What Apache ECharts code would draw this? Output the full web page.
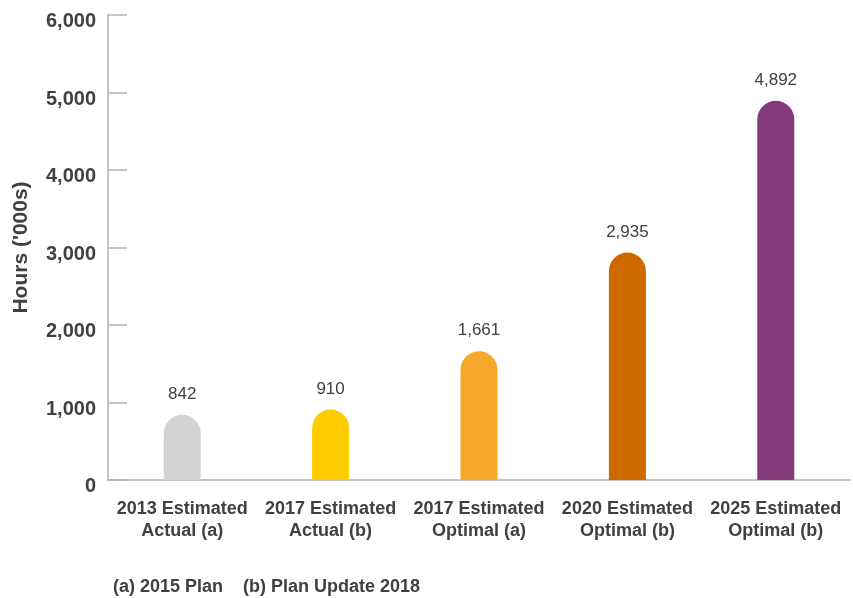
<!DOCTYPE html>
<html><head><meta charset="utf-8">
<script src="https://cdn.jsdelivr.net/npm/echarts@6/dist/echarts.min.js"></script>
<style>html,body{margin:0;padding:0;background:#fff}#c{width:853px;height:598px}</style>
</head><body><div id="c"></div>
<script>
const categories = ["2013 Estimated\nActual (a)", "2017 Estimated\nActual (b)", "2017 Estimated\nOptimal (a)", "2020 Estimated\nOptimal (b)", "2025 Estimated\nOptimal (b)"];
const values = [842, 910, 1661, 2935, 4892];
const colors = ["#d3d3d3", "#ffcc00", "#f6a82a", "#cc6a00", "#833a7a"];
const footnote = "(a) 2015 Plan    (b) Plan Update 2018";
const yName = "Hours ('000s)";

const chart = echarts.init(document.getElementById('c'));
const font = "'Liberation Sans', Arial, sans-serif";
chart.setOption({
  animation: false,
  textStyle: { fontFamily: font },
  grid: { left: 108, right: 3, top: 15, bottom: 118, containLabel: false },
  graphic: [{
    type: 'text', left: 113, top: 578,
    style: { text: footnote, font: "bold 18px " + font, fill: "#404040" }
  }],
  xAxis: {
    type: 'category', data: categories,
    axisLine: { lineStyle: { color: '#b3b3b3', width: 1.5 } },
    axisTick: { inside: true, length: 11, lineStyle: { color: '#b3b3b3', width: 1.5 } },
    axisLabel: { fontSize: 18, fontWeight: 'bold', color: '#404040', lineHeight: 22, margin: 18, interval: 0 }
  },
  yAxis: {
    type: 'value', min: 0, max: 6000, interval: 1000,
    name: yName, nameLocation: 'middle', nameGap: 76,
    nameTextStyle: { fontSize: 21, fontWeight: 'bold', color: '#404040' },
    axisLine: { show: true, lineStyle: { color: '#b3b3b3', width: 1.5 } },
    axisTick: { show: true, inside: true, length: 19, lineStyle: { color: '#b3b3b3', width: 1.5 } },
    splitLine: { show: false },
    axisLabel: { fontSize: 20, fontWeight: 'bold', color: '#404040', margin: 12,
      verticalAlign: 'top', lineHeight: 13,
      formatter: v => v.toLocaleString('en-US') }
  },
  series: [{
    type: 'bar', barWidth: 37,
    data: values.map((v, i) => ({ value: v, itemStyle: { color: colors[i] } })),
    itemStyle: { borderRadius: [18.5, 18.5, 0, 0] },
    label: { show: true, position: 'top', distance: 12, fontSize: 17, color: '#404040',
      formatter: p => p.value.toLocaleString('en-US') }
  }]
});
</script></body></html>
